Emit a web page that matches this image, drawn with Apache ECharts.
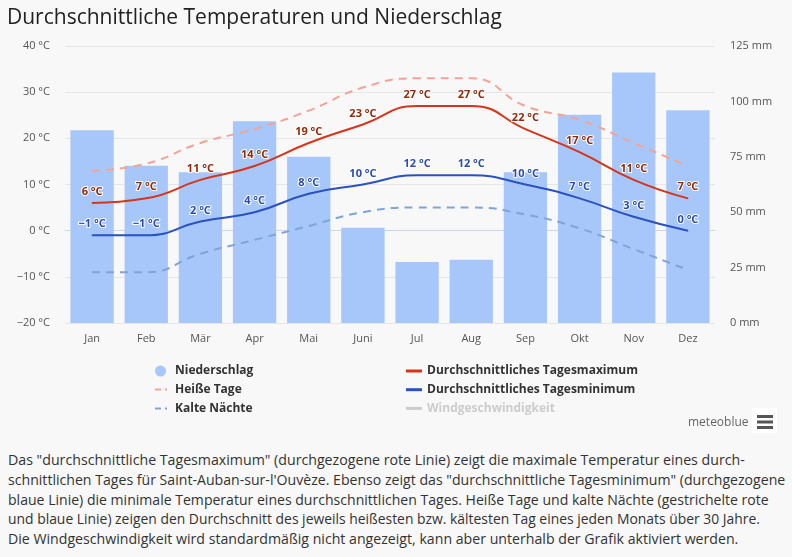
<!DOCTYPE html>
<html><head><meta charset="utf-8">
<script src="https://cdn.jsdelivr.net/npm/echarts@6/dist/echarts.min.js"></script>
<style>
html,body{margin:0;padding:0;background:#f8f8f8;}
#wrap{position:relative;width:792px;height:557px;overflow:hidden;}
#chart{position:absolute;left:0;top:0;width:792px;height:440px;}
#txt{position:absolute;left:8px;top:450px;width:2000px;font-family:"Open Sans",sans-serif;font-size:15px;line-height:19.8px;color:#333;white-space:nowrap;}
#txt span{display:block;width:max-content;transform-origin:0 0;}
</style></head>
<body><div id="wrap"><div id="chart"></div>
<div id="txt"><span>Das "durchschnittliche Tagesmaximum" (durchgezogene rote Linie) zeigt die maximale Temperatur eines durch-</span><span>schnittlichen Tages für Saint-Auban-sur-l'Ouvèze. Ebenso zeigt das "durchschnittliche Tagesminimum" (durchgezogene</span><span>blaue Linie) die minimale Temperatur eines durchschnittlichen Tages. Heiße Tage und kalte Nächte (gestrichelte rote</span><span>und blaue Linie) zeigen den Durchschnitt des jeweils heißesten bzw. kältesten Tag eines jeden Monats über 30 Jahre.</span><span>Die Windgeschwindigkeit wird standardmäßig nicht angezeigt, kann aber unterhalb der Grafik aktiviert werden.</span></div>
</div>
<script>
const months = ['Jan','Feb','Mär','Apr','Mai','Juni','Jul','Aug','Sep','Okt','Nov','Dez'];
const precipitation = [87, 71, 68, 91, 75, 43, 27.5, 28.5, 68, 94, 113, 96];
const tempMax = [6, 7, 11, 14, 19, 23, 27, 27, 22, 17, 11, 7];
const tempMin = [-1, -1, 2, 4, 8, 10, 12, 12, 10, 7, 3, 0];
const hotDays = [13, 14.5, 19, 22, 26, 31, 33, 33, 27, 24, 19, 14];
const coldNights = [-9, -9, -5, -2, 1, 4, 5, 5, 3.5, 0.5, -4, -8.5];
const windSpeed = [];

const lineWidths = [737, 777, 761, 752, 730];
function fitText() {
  document.querySelectorAll('#txt span').forEach((s, i) => {
    const w = s.offsetWidth;
    if (w > 0) s.style.transform = 'scaleX(' + (lineWidths[i] / w) + ')';
  });
}
fitText();
window.addEventListener('load', fitText);
if (document.fonts && document.fonts.ready) document.fonts.ready.then(fitText);
setTimeout(fitText, 200);

const fmtT = v => String(v).replace('-', '\u2212') + ' \u00b0C';
const uiFont = '"Open Sans",sans-serif';
const dashIcon = 'path://M0,0h6v2h-6zM10,0h2v2h-2z';
const legText = {fontFamily: uiFont, fontSize: 12, fontWeight: 'bold', color: '#333', lineHeight: 14};

const chart = echarts.init(document.getElementById('chart'));
chart.setOption({
  backgroundColor: '#f8f8f8',
  animation: false,
  title: {
    text: 'Durchschnittliche Temperaturen und Niederschlag',
    left: 2, top: 3,
    textStyle: {fontFamily: uiFont, fontSize: 21, fontWeight: 'normal', color: '#222'}
  },
  grid: {left: 65, right: 77, top: 46, bottom: 117},
  legend: [{
    left: 155, top: 364, padding: 0, orient: 'vertical', itemWidth: 11, itemHeight: 11,
    textStyle: Object.assign({padding: [0, 0, 0, 4]}, legText),
    data: [{name: 'Niederschlag', icon: 'circle'}]
  }, {
    left: 155, top: 382.5, padding: 0, orient: 'vertical', itemGap: 5, itemWidth: 12, itemHeight: 2,
    textStyle: Object.assign({padding: [0, 0, 0, 3]}, legText),
    data: [{name: 'Heiße Tage', icon: dashIcon}, {name: 'Kalte Nächte', icon: dashIcon}]
  }, {
    left: 406, top: 364, padding: 0, orient: 'vertical', itemGap: 4.7, itemWidth: 16, itemHeight: 3,
    textStyle: legText,
    inactiveColor: '#ccc',
    selected: {'Windgeschwindigkeit': false},
    data: [{name: 'Durchschnittliches Tagesmaximum', icon: 'rect'},
           {name: 'Durchschnittliches Tagesminimum', icon: 'rect'},
           {name: 'Windgeschwindigkeit', icon: 'rect'}]
  }],
  xAxis: {
    type: 'category', data: months,
    axisLine: {lineStyle: {color: '#ccd6eb'}},
    axisTick: {show: false},
    axisLabel: {color: '#555', fontSize: 11, margin: 10, fontFamily: uiFont}
  },
  yAxis: [{
    type: 'value', min: -20, max: 40, interval: 10,
    axisLabel: {formatter: fmtT, color: '#555', fontSize: 11, margin: 15, fontFamily: uiFont},
    splitLine: {lineStyle: {color: '#e6e6e6'}},
    axisLine: {show: false}, axisTick: {show: false}
  }, {
    type: 'value', min: 0, max: 125, interval: 25,
    axisLabel: {formatter: '{value} mm', color: '#555', fontSize: 11, margin: 15, fontFamily: uiFont},
    splitLine: {show: false}, axisLine: {show: false}, axisTick: {show: false}
  }, {
    type: 'value', show: false, min: 0, max: 10
  }],
  series: [{
    name: 'Niederschlag', type: 'bar', yAxisIndex: 1, data: precipitation,
    barCategoryGap: '20%', itemStyle: {color: '#a7c7fb'}, z: 1
  }, {
    name: 'Heiße Tage', type: 'line', smooth: true, symbol: 'none', data: hotDays,
    itemStyle: {color: '#f4a394'},
    lineStyle: {color: '#f4a394', width: 2, type: [8, 6]}, z: 2
  }, {
    name: 'Kalte Nächte', type: 'line', smooth: true, symbol: 'none', data: coldNights,
    itemStyle: {color: '#7fa5d8'},
    lineStyle: {color: '#7fa5d8', width: 2, type: [8, 6]}, z: 2
  }, {
    name: 'Durchschnittliches Tagesmaximum', type: 'line', smooth: true,
    symbol: 'circle', symbolSize: 1, showSymbol: true, data: tempMax,
    itemStyle: {color: '#d7341a'},
    lineStyle: {color: '#d7341a', width: 2}, z: 3,
    label: {show: true, position: 'top', distance: 5, formatter: p => fmtT(p.value),
      color: '#8e2a0a', fontWeight: 'bold', fontSize: 11, fontFamily: uiFont,
      textBorderColor: '#fff', textBorderWidth: 2}
  }, {
    name: 'Durchschnittliches Tagesminimum', type: 'line', smooth: true,
    symbol: 'circle', symbolSize: 1, showSymbol: true, data: tempMin,
    itemStyle: {color: '#2a52be'},
    lineStyle: {color: '#2a52be', width: 2}, z: 3,
    label: {show: true, position: 'top', distance: 5, formatter: p => fmtT(p.value),
      color: '#2a4bb0', fontWeight: 'bold', fontSize: 11, fontFamily: uiFont,
      textBorderColor: '#fff', textBorderWidth: 2}
  }, {
    name: 'Windgeschwindigkeit', type: 'line', yAxisIndex: 2, symbol: 'none', data: windSpeed,
    itemStyle: {color: '#aaaaaa'}, lineStyle: {color: '#aaaaaa', width: 2}
  }],
  graphic: [{
    type: 'text', left: 688, top: 417,
    style: {text: 'meteoblue', fill: '#666', font: '12px ' + uiFont}
  }, {
    type: 'group', left: 752, top: 408,
    children: [
      {type: 'rect', shape: {x: 0, y: 0, width: 25, height: 25}, style: {fill: '#fff'}},
      {type: 'rect', shape: {x: 5, y: 7, width: 16, height: 3}, style: {fill: '#555'}},
      {type: 'rect', shape: {x: 5, y: 12.5, width: 16, height: 3}, style: {fill: '#555'}},
      {type: 'rect', shape: {x: 5, y: 18, width: 16, height: 3}, style: {fill: '#555'}}
    ]
  }]
});
</script></body></html>
